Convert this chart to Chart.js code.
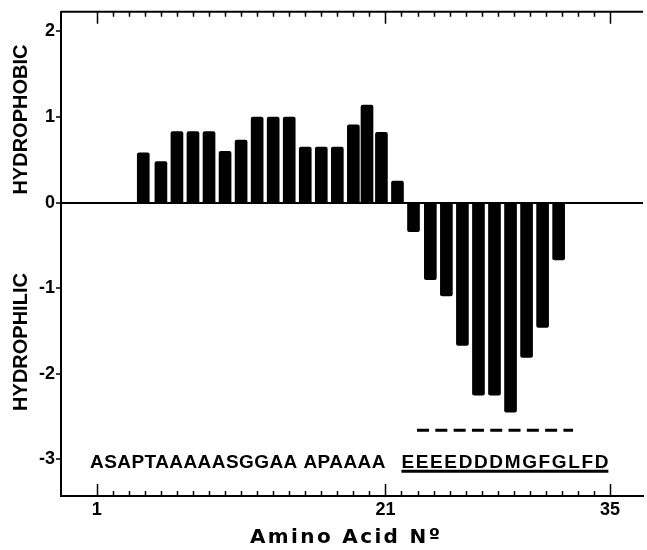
<!DOCTYPE html>
<html>
<head>
<meta charset="utf-8">
<script src="https://cdn.jsdelivr.net/npm/chart.js@4"></script>
<style>
    html, body { margin: 0; padding: 0; background: #fff; }
    #wrap { width: 647px; height: 550px; }
</style>
</head>
<body>
<div id="wrap"><canvas id="hydropathyChart"></canvas></div>
<script>
// hydropathy values, one bar per window position (positions)
const barPositions = [2.9, 4.0, 5.0, 6.0, 7.0, 8.0, 9.0, 10.0, 11.0, 12.0, 13.0, 14.0, 15.0, 16.0, 16.85, 17.75, 18.75,
    19.75, 20.8, 21.8, 22.8, 23.8, 24.8, 25.8, 26.8, 27.8, 28.8];
const hydropathy = [0.58, 0.48, 0.83, 0.83, 0.83, 0.60, 0.73, 1.00, 1.00, 1.00, 0.65, 0.65, 0.65, 0.91, 1.14, 0.82, 0.25,
    -0.34, -0.90, -1.09, -1.67, -2.25, -2.25, -2.45, -1.81, -1.46, -0.67];

// axis ticks
const yTickValues = [2, 1, 0, -1, -2, -3];
const xMinorTicks = [0, 1, 2, 3, 4, 5, 6, 7, 8, 9, 10, 11, 12, 13, 14, 15, 16, 17, 18, 19, 20, 21, 22, 23, 24, 25, 26, 27, 28, 29, 30, 31, 32];
const xMajorTicks = [0, 18, 32];
const xMajorLabels = ['1', '21', '35'];

// texts
const sideLabels = ['HYDROPHOBIC', 'HYDROPHILIC'];
const sequenceLeft = 'ASAPTAAAAASGGAA APAAAA';
const sequenceRight = 'EEEEDDDMGFGLFD';
const xTitle = 'Amino Acid N\u00BA';

const FONT = '"Liberation Sans", Arial, sans-serif';

// 테두리, 눈금, 서열 텍스트
const decorPlugin = {
    id: 'decor',
    afterDraw(chart) {
        const ctx = chart.ctx;
        const area = chart.chartArea;
        const xs = chart.scales.x;
        const ys = chart.scales.y;
        ctx.save();
        ctx.strokeStyle = '#000';
        ctx.fillStyle = '#000';

        // top border
        ctx.lineWidth = 2;
        ctx.beginPath();
        ctx.moveTo(area.left, area.top);
        ctx.lineTo(area.right, area.top);
        ctx.stroke();

        // inward ticks top and bottom
        ctx.lineWidth = 1.5;
        xMinorTicks.forEach(function(t) {
            const px = Math.round(xs.getPixelForValue(t)) + 0.5;
            const len = xMajorTicks.includes(t) ? 12 : 5;
            ctx.beginPath();
            ctx.moveTo(px, area.top);
            ctx.lineTo(px, area.top + len);
            ctx.moveTo(px, area.bottom);
            ctx.lineTo(px, area.bottom - len);
            ctx.stroke();
        });

        // side labels
        ctx.font = 'bold 20px ' + FONT;
        ctx.textAlign = 'center';
        ctx.textBaseline = 'middle';
        [[sideLabels[0], 0.97], [sideLabels[1], -1.63]].forEach(function(s) {
            ctx.save();
            ctx.translate(21, ys.getPixelForValue(s[1]));
            ctx.rotate(-Math.PI / 2);
            ctx.fillText(s[0], 0, 0);
            ctx.restore();
        });

        // text stretched between two x pixels
        ctx.textAlign = 'left';
        ctx.textBaseline = 'alphabetic';
        function spaced(text, x0, x1, y) {
            ctx.letterSpacing = '0px';
            const w = ctx.measureText(text).width;
            const sp = (x1 - x0 - w) / (text.length - 1);
            ctx.letterSpacing = sp + 'px';
            ctx.fillText(text, x0, y);
            ctx.letterSpacing = '0px';
        }

        // sequence
        ctx.font = 'bold 19px ' + FONT;
        const baseY = ys.getPixelForValue(-3.1);
        spaced(sequenceLeft, xs.getPixelForValue(-0.42), xs.getPixelForValue(18.0), baseY);
        spaced(sequenceRight, xs.getPixelForValue(19.0), xs.getPixelForValue(31.9), baseY);

        // x title
        ctx.font = 'bold 20px "DejaVu Sans", sans-serif';
        spaced(xTitle, 250, 440, 543);

        // underline
        ctx.lineWidth = 3;
        const uy = ys.getPixelForValue(-3.13) + 1;
        ctx.beginPath();
        ctx.moveTo(xs.getPixelForValue(19.0), uy);
        ctx.lineTo(xs.getPixelForValue(31.9), uy);
        ctx.stroke();

        // dashed line
        const dy = ys.getPixelForValue(-2.66);
        ctx.setLineDash([12, 6.3]);
        ctx.beginPath();
        ctx.moveTo(xs.getPixelForValue(19.97), dy);
        ctx.lineTo(xs.getPixelForValue(29.7), dy);
        ctx.stroke();
        ctx.setLineDash([]);

        ctx.restore();
    }
};

new Chart(document.getElementById('hydropathyChart'), {
    type: 'bar',
    data: {
        datasets: [{
            data: barPositions.map(function(p, i) { return { x: p, y: hydropathy[i] }; }),
            backgroundColor: '#000',
            borderWidth: 0,
            borderRadius: 2,
            borderSkipped: 'start',
            barThickness: 12
        }]
    },
    options: {
        responsive: true,
        maintainAspectRatio: false,
        animation: false,
        layout: { padding: { top: 8, right: 4, left: 0, bottom: 0 } },
        plugins: {
            legend: { display: false },
            tooltip: { enabled: false }
        },
        scales: {
            x: {
                type: 'linear',
                offset: false,
                min: -2.23,
                max: 34.06,
                afterFit: function(scale) { scale.height = 54; },
                afterBuildTicks: function(scale) {
                    scale.ticks = xMajorTicks.map(function(v) { return { value: v }; });
                },
                border: { display: true, color: '#000', width: 2 },
                grid: { display: false, drawTicks: false, offset: false },
                ticks: {
                    padding: 3,
                    color: '#000',
                    maxRotation: 0,
                    autoSkip: false,
                    font: { family: FONT, size: 18, weight: 'bold' },
                    callback: function(v) {
                        const i = xMajorTicks.indexOf(v);
                        return i >= 0 ? xMajorLabels[i] : '';
                    }
                }
            },
            y: {
                min: -3.43,
                max: 2.23,
                afterFit: function(scale) { scale.width = 61; },
                afterBuildTicks: function(scale) {
                    scale.ticks = yTickValues.map(function(v) { return { value: v }; });
                },
                border: { display: true, color: '#000', width: 2 },
                grid: {
                    drawTicks: true,
                    tickLength: 5,
                    tickColor: '#000',
                    tickWidth: 1.5,
                    lineWidth: 2,
                    color: function(c) { return c.tick && c.tick.value === 0 ? '#000' : 'transparent'; }
                },
                ticks: {
                    padding: 1,
                    color: '#000',
                    font: { family: FONT, size: 18, weight: 'bold' },
                    callback: function(v) { return String(v); }
                }
            }
        }
    },
    plugins: [decorPlugin]
});
</script>
</body>
</html>
